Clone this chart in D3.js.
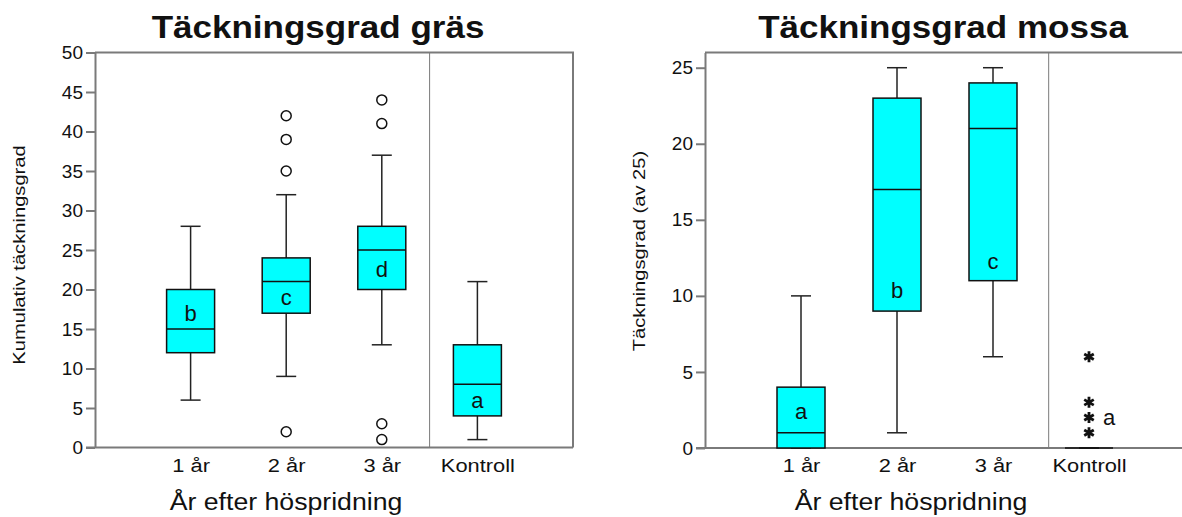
<!DOCTYPE html>
<html>
<head>
<meta charset="utf-8">
<script src="https://cdn.jsdelivr.net/npm/d3@7"></script>
<style>
  body { margin: 0; background: #fff; }
  text { font-family: "Liberation Sans", Arial, sans-serif; fill: #111; }
</style>
</head>
<body>
<div id="chart"></div>
<script>
const categories = ["1 år", "2 år", "3 år", "Kontroll"];

// Täckningsgrad gräs
const grasLow    = [6, 9, 13, 1];
const grasQ1     = [12, 17, 20, 4];
const grasMedian = [15, 21, 25, 8];
const grasQ3     = [20, 24, 28, 13];
const grasHigh   = [28, 32, 37, 21];
const grasOutliers = [[], [2, 35, 39, 42], [1, 3, 41, 44], []];
const grasLetters  = ["b", "c", "d", "a"];
const grasLetterY  = [17, 19, 22.6, 6];
const grasTicks = [0, 5, 10, 15, 20, 25, 30, 35, 40, 45, 50];

// Täckningsgrad mossa
const mossLow    = [0, 1, 6, 0];
const mossQ1     = [0, 9, 11, 0];
const mossMedian = [1, 17, 21, 0];
const mossQ3     = [4, 23, 24, 0];
const mossHigh   = [10, 25, 25, 0];
const mossOutliers = [[], [], [], [1, 2, 3, 6]];
const mossLetters  = ["a", "b", "c", "a"];
const mossLetterY  = [2.4, 10.4, 12.3, 2];
const mossTicks = [0, 5, 10, 15, 20, 25];

const W = 1182, H = 517;
const svg = d3.select("#chart").append("svg")
  .attr("width", W)
  .attr("height", H);

function drawPanel(opt) {
  const g = svg.append("g");

  const x = d3.scaleLinear().domain([0, 5]).range([opt.left, opt.left + opt.width]);
  const y = d3.scaleLinear().domain(opt.yDomain).range([opt.bottom, opt.top]);

  // frame (top + right)
  g.append("path")
    .attr("d", `M${opt.left},${opt.top}H${opt.left + opt.width}V${opt.bottom}`)
    .attr("fill", "none")
    .attr("stroke", "#7a7a7a")
    .attr("stroke-width", 2);

  // divider before Kontroll
  g.append("line")
    .attr("x1", x(opt.divider)).attr("x2", x(opt.divider))
    .attr("y1", opt.top).attr("y2", opt.bottom)
    .attr("stroke", "#7a7a7a")
    .attr("stroke-width", 1);

  // y axis
  const yAxis = g.append("g")
    .attr("transform", `translate(${opt.left},0)`)
    .call(d3.axisLeft(y).tickValues(opt.ticks).tickSize(9).tickSizeOuter(0).tickPadding(3));
  yAxis.select(".domain").attr("stroke", "#7a7a7a").attr("stroke-width", 2);
  yAxis.selectAll(".tick line").attr("stroke", "#7a7a7a").attr("stroke-width", 2);
  yAxis.selectAll(".tick text")
    .style("font-family", '"Liberation Sans", Arial, sans-serif')
    .style("font-size", "19px")
    .attr("fill", "#111");

  // x axis (labels only, no ticks)
  const xAxis = g.append("g")
    .attr("transform", `translate(0,${opt.bottom})`)
    .call(d3.axisBottom(x).tickValues([1, 2, 3, 4])
      .tickFormat(d => categories[d - 1]).tickSize(0).tickPadding(11));
  xAxis.select(".domain").attr("stroke", "#7a7a7a").attr("stroke-width", 2)
    .attr("d", `M${opt.left - 9},0H${opt.left + opt.width}`);
  xAxis.selectAll(".tick text")
    .style("font-family", '"Liberation Sans", Arial, sans-serif')
    .style("font-size", "19px")
    .attr("fill", "#111")
    .attr("transform", "scale(1.15,1)");

  const boxW = 48, capW = 20;
  const idx = d3.range(categories.length);

  // whiskers
  const wg = g.append("g").attr("stroke", "#222").attr("stroke-width", 1.5);
  idx.forEach(i => {
    const cx = x(i + 1);
    wg.append("line").attr("x1", cx).attr("x2", cx)
      .attr("y1", y(opt.low[i])).attr("y2", y(opt.q1[i]));
    wg.append("line").attr("x1", cx).attr("x2", cx)
      .attr("y1", y(opt.q3[i])).attr("y2", y(opt.high[i]));
    wg.append("line").attr("x1", cx - capW / 2).attr("x2", cx + capW / 2)
      .attr("y1", y(opt.low[i])).attr("y2", y(opt.low[i]));
    wg.append("line").attr("x1", cx - capW / 2).attr("x2", cx + capW / 2)
      .attr("y1", y(opt.high[i])).attr("y2", y(opt.high[i]));
  });

  // boxes
  g.selectAll("rect.box")
    .data(idx.filter(i => opt.q3[i] > opt.q1[i]))
    .enter()
    .append("rect")
    .attr("class", "box")
    .attr("x", i => x(i + 1) - boxW / 2)
    .attr("y", i => y(opt.q3[i]))
    .attr("width", boxW)
    .attr("height", i => y(opt.q1[i]) - y(opt.q3[i]))
    .attr("fill", "#00ffff")
    .attr("stroke", "#111")
    .attr("stroke-width", 1.5);

  // medians
  g.selectAll("line.median")
    .data(idx)
    .enter()
    .append("line")
    .attr("class", "median")
    .attr("x1", i => x(i + 1) - boxW / 2)
    .attr("x2", i => x(i + 1) + boxW / 2)
    .attr("y1", i => y(opt.median[i]))
    .attr("y2", i => y(opt.median[i]))
    .attr("stroke", "#111")
    .attr("stroke-width", 1.5);

  // outliers
  const pts = [];
  idx.forEach(i => opt.outliers[i].forEach(v => pts.push({ i, v })));
  if (opt.star) {
    g.selectAll("path.out")
      .data(pts)
      .enter()
      .append("path")
      .attr("class", "out")
      .attr("transform", d => `translate(${x(d.i + 1)},${y(d.v)})`)
      .attr("d", d3.symbol(d3.symbolAsterisk, 85))
      .attr("fill", "none")
      .attr("stroke", "#111")
      .attr("stroke-width", 2.8);
  } else {
    g.selectAll("circle.out")
      .data(pts)
      .enter()
      .append("circle")
      .attr("class", "out")
      .attr("cx", d => x(d.i + 1))
      .attr("cy", d => y(d.v))
      .attr("r", 5)
      .attr("fill", "#fff")
      .attr("stroke", "#111")
      .attr("stroke-width", 1.5);
  }

  // group letters
  g.selectAll("text.letter")
    .data(idx)
    .enter()
    .append("text")
    .attr("class", "letter")
    .attr("x", i => x(i + 1) + (opt.letterDx[i] || 0))
    .attr("y", i => y(opt.letterY[i]))
    .attr("dy", "0.35em")
    .attr("text-anchor", "middle")
    .style("font-size", "22px")
    .text(i => opt.letters[i]);

  // title
  g.append("text")
    .attr("transform", `translate(${opt.titleX},38) scale(1.13,1)`)
    .attr("text-anchor", "middle")
    .style("font-size", "31px")
    .style("font-weight", "bold")
    .attr("fill", "#000")
    .text(opt.title);

  // x title
  g.append("text")
    .attr("transform", `translate(${opt.xTitleX},510) scale(1.16,1)`)
    .attr("text-anchor", "middle")
    .style("font-size", "23px")
    .text("År efter höspridning");

  // y title
  g.append("text")
    .attr("transform", `translate(${opt.yTitleX},${opt.yTitleY}) rotate(-90) scale(1.26,1)`)
    .attr("text-anchor", "middle")
    .style("font-size", "16px")
    .text(opt.yTitle);
}

drawPanel({
  left: 95, width: 478, top: 52.5, bottom: 447.5,
  yDomain: [0, 50], ticks: grasTicks, divider: 3.5,
  low: grasLow, q1: grasQ1, median: grasMedian, q3: grasQ3, high: grasHigh,
  outliers: grasOutliers, letters: grasLetters, letterY: grasLetterY, letterDx: [],
  star: false,
  title: "Täckningsgrad gräs", titleX: 318,
  xTitleX: 286,
  yTitle: "Kumulativ täckningsgrad", yTitleX: 25, yTitleY: 255
});

drawPanel({
  left: 705, width: 480, top: 52.5, bottom: 448,
  yDomain: [0, 26], ticks: mossTicks, divider: 3.58,
  low: mossLow, q1: mossQ1, median: mossMedian, q3: mossQ3, high: mossHigh,
  outliers: mossOutliers, letters: mossLetters, letterY: mossLetterY, letterDx: [0, 0, 0, 20],
  star: true,
  title: "Täckningsgrad mossa", titleX: 943,
  xTitleX: 911,
  yTitle: "Täckningsgrad (av 25)", yTitleX: 645, yTitleY: 251
});
</script>
</body>
</html>
